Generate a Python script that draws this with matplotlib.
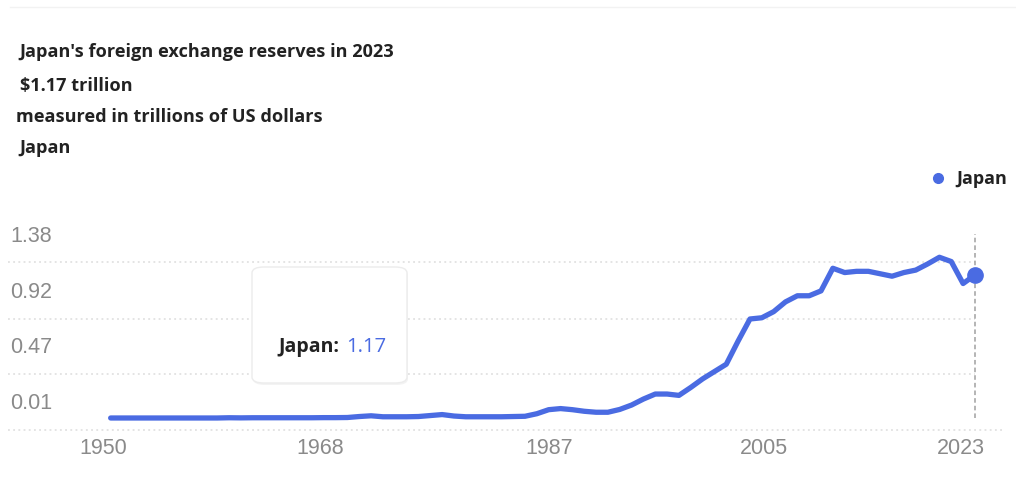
"""Japan's foreign exchange reserves, 1950-2023 (trillions of US dollars)."""

import matplotlib

matplotlib.use("Agg")
import matplotlib.pyplot as plt
from matplotlib.lines import Line2D
from matplotlib.patches import FancyBboxPatch
from matplotlib.transforms import offset_copy, ScaledTranslation


BLUE = "#4a6be2"
INK = "#222222"
GREY = "#8a8a8a"
GRID = "#dcdcdc"
SANS = ["Open Sans", "DejaVu Sans"]
AXFONT = ["Liberation Sans", "DejaVu Sans"]

years = list(range(1950, 2024))
reserves = [
    # 1950-1959
    0.0, 0.0, 0.0, 0.0, 0.0, 0.0, 0.0, 0.0, 0.0, 0.0,
    # 1960-1969
    0.002, 0.001, 0.002, 0.002, 0.002, 0.002, 0.002, 0.002, 0.003, 0.003,
    # 1970-1979
    0.004, 0.012, 0.018, 0.010, 0.010, 0.010, 0.012, 0.020, 0.028, 0.016,
    # 1980-1989
    0.010, 0.010, 0.010, 0.010, 0.012, 0.014, 0.035, 0.068, 0.077, 0.068,
    # 1990-1999
    0.055, 0.047, 0.047, 0.070, 0.106, 0.155, 0.196, 0.196, 0.185, 0.250,
    # 2000-2009
    0.320, 0.380, 0.440, 0.630, 0.810, 0.820, 0.870, 0.950, 1.000, 1.000,
    # 2010-2019
    1.040, 1.225, 1.190, 1.200, 1.200, 1.180, 1.160, 1.190, 1.210, 1.260,
    # 2020-2023
    1.315, 1.280, 1.100, 1.170,
]
assert len(years) == len(reserves)

y_ticks = [0.01, 0.47, 0.92, 1.38]
x_ticks = [1950, 1968, 1987, 2005, 2023]

W, H = 1016, 491


def fx(px):
    return px / W


def fy(py):
    return 1 - py / H


def main() -> None:
    plt.rcParams["font.family"] = SANS
    fig = plt.figure(figsize=(W / 100, H / 100), dpi=100)
    fig.patch.set_facecolor("white")

    # plot box: pixel 8..1005 across, 225..432 down
    ax = fig.add_axes([fx(8), fy(432), fx(997), 207 / H])
    ax.set_xlim(1941.33, 2025.54)
    ax.set_ylim(-0.1146, 1.579)
    for s in ax.spines.values():
        s.set_visible(False)

    ax.plot(years, reserves, color=BLUE, lw=3.8, solid_joinstyle="round", solid_capstyle="round", zorder=3)
    ax.plot(years[-1:], reserves[-1:], "o", color=BLUE, ms=11, zorder=4)
    ax.axvline(years[-1], ymin=0.07, ymax=0.955, color="#a0a0a0", lw=1.1, ls=(0, (3, 2)), zorder=2)

    # gridlines sit a little under their value, labels a little above
    grid_tr = ax.transData + ScaledTranslation(0, -0.13, fig.dpi_scale_trans)
    for i, v in enumerate(y_ticks):
        x_end = ax.get_xlim()[1] if i == 0 else years[-1]
        ax.plot([ax.get_xlim()[0], x_end], [v, v], color=GRID, lw=1.1, ls=(0, (1.2, 2.2)),
                transform=grid_tr, zorder=1)
    lab_tr = offset_copy(ax.get_yaxis_transform(), fig=fig, y=13, units="dots")
    for v in y_ticks:
        ax.text(0.002, v, f"{v:.2f}", transform=lab_tr, ha="left", va="center",
                fontsize=15.5, color=GREY, family=AXFONT)
    ax.set_yticks([])

    ax.set_xticks(x_ticks)
    ax.set_xticklabels([str(y) for y in x_ticks], fontsize=15.5, color=GREY, family=AXFONT)
    ax.tick_params(axis="x", length=0, pad=4)
    nudges = [-0.07, -0.04, 0, 0.02, -0.14]
    for lab, dx in zip(ax.get_xticklabels(), nudges):
        lab.set_transform(lab.get_transform() + ScaledTranslation(dx, 0, fig.dpi_scale_trans))

    # header block
    head = dict(ha="left", va="center", fontsize=13.1, weight="bold", color=INK)
    fig.text(fx(19), fy(52), "Japan's foreign exchange reserves in 2023", **head)
    fig.text(fx(20), fy(86), "$1.17 trillion", **head)
    fig.text(fx(16), fy(117), "measured in trillions of US dollars", **head)
    fig.text(fx(19), fy(148), "Japan", **head)
    fig.add_artist(Line2D([fx(10), 1], [fy(7), fy(7)], color="#f2f2f2", lw=1))

    # legend
    fig.legend(
        handles=[Line2D([], [], marker="o", ls="", color=BLUE, ms=7)],
        labels=["Japan"],
        loc="center left",
        bbox_to_anchor=(fx(931), fy(179)),
        frameon=False,
        handlelength=0.8,
        handletextpad=0.6,
        borderpad=0,
        borderaxespad=0,
        prop=dict(family=SANS, weight="bold", size=13),
        labelcolor=INK,
    )

    # hover tooltip
    shadow = FancyBboxPatch((fx(253), fy(385)), fx(155), 116 / H, transform=fig.transFigure,
                            boxstyle="round,pad=0,rounding_size=0.012", facecolor="#f3f3f3",
                            edgecolor="none", zorder=5)
    tip = FancyBboxPatch((fx(252), fy(383)), fx(155), 116 / H, transform=fig.transFigure,
                         boxstyle="round,pad=0,rounding_size=0.012", facecolor="white",
                         edgecolor="#ececec", lw=1, zorder=6)
    fig.add_artist(shadow)
    fig.add_artist(tip)
    fig.text(fx(278), fy(347), "Japan:", ha="left", va="center", fontsize=14, weight="bold",
             color=INK, zorder=7)
    fig.text(fx(346), fy(347), "1.17", ha="left", va="center", fontsize=14.5, color=BLUE, zorder=7)

    fig.savefig("out.png", dpi=100, facecolor="white")


if __name__ == "__main__":
    main()
